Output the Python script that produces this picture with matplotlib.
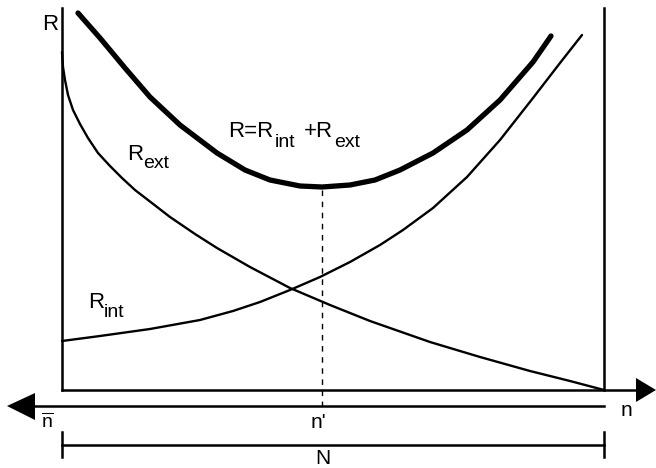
import numpy as np
import matplotlib.pyplot as plt

plt.rcParams['font.family'] = ['Liberation Sans', 'DejaVu Sans']
plt.rcParams['mathtext.fontset'] = 'custom'
plt.rcParams['mathtext.rm'] = 'Liberation Sans'

# ------------------------------------------------------------
# curves (x = n, y = R in picture units,
# y grows downward because the diagram is drawn in image space)
# ------------------------------------------------------------
rext_x = [62, 63, 65, 68, 73, 80, 88, 98, 110, 122, 135, 148, 170, 195,
          217, 250, 290, 330, 370, 430, 480, 530, 570, 604]
rext_y = [52, 67, 80, 95, 110, 124, 138, 153, 166, 178, 190, 200, 217, 234,
          248, 267, 288, 305, 321, 342, 357, 371, 381, 390]

rint_x = [62, 100, 150, 200, 233, 260, 290, 320, 350, 380, 403, 433,
          467, 500, 533, 560, 582]
rint_y = [341, 336, 329, 320, 311, 302, 290, 277, 262, 245, 230, 208,
          177, 140, 98, 63, 35]

rtot_x = [78, 100, 125, 150, 180, 217, 245, 270, 300, 322, 350, 375,
          400, 433, 467, 500, 533, 551]
rtot_y = [13, 38, 68, 97, 125, 153, 170, 180, 186, 187, 185, 180,
          170, 153, 130, 100, 62, 36]

# frame of the diagram
n_left, n_right = 62, 604
r_top, r_base = 8, 390
lower_axis_y = 406
bracket_y = 445
n_opt = 322
r_opt = 187

fig = plt.figure(figsize=(6.56, 4.68), dpi=100)
ax = fig.add_axes([0, 0, 1, 1])
ax.set_xlim(0, 656)
ax.set_ylim(468, 0)
ax.axis('off')

lw_axis = 1.8
lw_thin = 1.7
lw_thick = 3.8

# vertical axis R and right boundary
ax.plot([n_left, n_left], [r_top, r_base], color='black', lw=lw_axis)
ax.plot([n_right, n_right], [r_top, r_base], color='black', lw=lw_axis)

# upper horizontal axis with arrow to the right
ax.plot([n_left, 640], [r_base, r_base], color='black', lw=lw_axis)
ax.fill([636, 656, 636], [378, r_base, 402], color='black', lw=0)

# lower axis with arrow to the left
ax.plot([33, n_right], [lower_axis_y, lower_axis_y], color='black', lw=lw_axis)
ax.fill([35, 7, 35], [393, lower_axis_y, 420], color='black', lw=0)

# N bracket
ax.plot([n_left, n_right], [bracket_y, bracket_y], color='black', lw=lw_axis)
ax.plot([n_left, n_left], [432, 457], color='black', lw=lw_axis)
ax.plot([n_right, n_right], [432, 457], color='black', lw=lw_axis)

# curves
ax.plot(rext_x, rext_y, color='black', lw=lw_thin, solid_capstyle='round',
        solid_joinstyle='round')
ax.plot(rint_x, rint_y, color='black', lw=lw_thin, solid_capstyle='round',
        solid_joinstyle='round')
ax.plot(rtot_x, rtot_y, color='black', lw=lw_thick, solid_capstyle='round',
        solid_joinstyle='round')

# optimum marker
ax.plot([n_opt, n_opt], [r_opt + 3, lower_axis_y], color='black',
        lw=1.0, linestyle=(0, (4, 4)))

# labels (main part, subscript part)
fs_main = 16
fs_sub = 14


def label(x, y, s, size):
    ax.text(x, y, s, fontsize=size, ha='left', va='baseline')


label(42, 30, 'R', fs_main)

label(228, 137, 'R=R', fs_main)
label(275, 147, 'int', fs_sub)
label(304, 137, '+R', fs_main)
label(334, 147, 'ext', fs_sub)

label(127, 160, 'R', fs_main)
label(143, 168, 'ext', fs_sub)

label(88, 308, 'R', fs_main)
label(104, 317, 'int', fs_sub)

ax.text(47, 428, r'$\overline{\mathrm{n}}$', fontsize=14, ha='center',
        va='baseline')
label(311, 428, "n'", 15)
label(621, 416, 'n', 15)
label(315, 464, 'N', 15)

fig.savefig('out.png', dpi=100)
